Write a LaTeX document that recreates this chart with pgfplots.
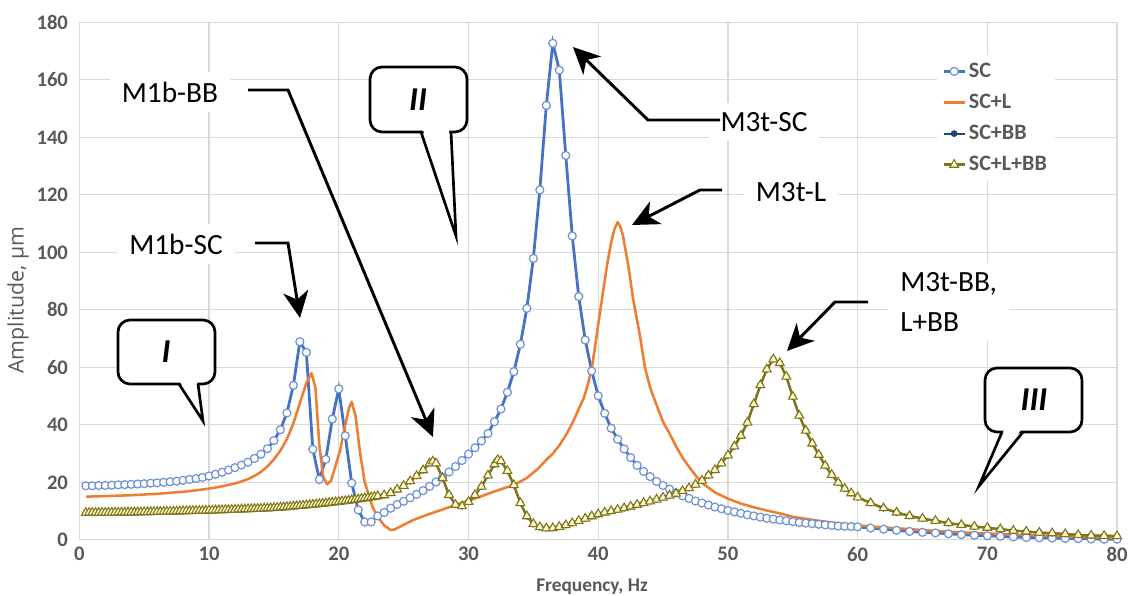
\documentclass[border=0pt]{standalone}
\usepackage{pgfplots}
\pgfplotsset{compat=1.18}
\usepackage{pgfplotstable}
\usepackage{fontspec}
\setmainfont{Carlito}
\newfontfamily\osans{Open Sans}
\usetikzlibrary{arrows.meta}

\definecolor{scline}{RGB}{68,114,196}
\definecolor{scmark}{RGB}{110,145,210}
\definecolor{sclorange}{RGB}{237,125,49}
\definecolor{bbblue}{RGB}{38,68,120}
\definecolor{lbbline}{RGB}{128,118,24}
\definecolor{lbbfill}{RGB}{255,250,205}
\definecolor{txtgray}{RGB}{89,89,89}
\definecolor{gridgray}{RGB}{217,217,217}

% SC: blue circles
\pgfplotstableread{
f a
0.5 18.8
1 18.8
1.5 18.9
2 18.9
2.5 19.0
3 19.1
3.5 19.2
4 19.3
4.5 19.4
5 19.5
5.5 19.7
6 19.8
6.5 20.0
7 20.2
7.5 20.4
8 20.7
8.5 21.0
9 21.3
9.5 21.7
10 22.2
10.5 22.8
11 23.5
11.5 24.3
12 25.1
12.5 26.0
13 27.0
13.5 28.3
14 29.8
14.5 31.7
15 34.5
15.5 38.3
16 44.1
16.5 53.7
17 68.9
17.5 65.2
18 31.5
18.5 21.0
19 28.0
19.5 42.0
20 52.5
20.5 36.2
21 19.7
21.5 10.4
22 6.2
22.5 6.2
23 8.3
23.5 9.5
24 11.0
24.5 12.3
25 13.4
25.5 14.6
26 15.8
26.5 17.1
27 18.6
27.5 20.1
28 21.8
28.5 23.6
29 25.5
29.5 27.6
30 29.8
30.5 32.0
31 34.4
31.5 37.0
32 41.1
32.5 45.5
33 51.3
33.5 58.5
34 68.0
34.5 80.5
35 97.9
35.5 121.7
36 151.1
36.5 172.7
37 163.4
37.5 133.7
38 105.7
38.5 84.6
39 69.5
39.5 58.7
40 50.1
40.5 44.0
41 38.8
41.5 35.0
42 31.6
42.5 28.6
43 25.9
43.5 23.8
44 22.0
44.5 20.3
45 18.9
45.5 17.6
46 16.3
46.5 15.3
47 14.4
47.5 13.5
48 12.8
48.5 12.1
49 11.4
49.5 10.8
50 10.2
50.5 9.7
51 9.2
51.5 8.7
52 8.3
52.5 7.9
53 7.5
53.5 7.2
54 6.9
54.5 6.6
55 6.3
55.5 6.0
56 5.8
56.5 5.6
57 5.4
57.5 5.2
58 5.0
58.5 4.8
59 4.7
59.5 4.6
60 4.5
61 4.1
62 3.7
63 3.3
64 2.9
65 2.6
66 2.4
67 2.1
68 1.8
69 1.6
70 1.4
71 1.2
72 1.0
73 0.8
74 0.7
75 0.6
76 0.5
77 0.4
78 0.3
79 0.2
80 0.2
}\tabsc

% SC+L: orange line
\pgfplotstableread{
f a
0.5 15.0
2 15.2
4 15.5
6 16.0
8 16.7
9 17.2
10 17.8
11 18.6
12 19.6
12.5 20.3
13 21.1
13.5 22.2
14 23.6
14.5 25.5
15 28.0
15.5 31.0
16 35.0
16.5 40.5
17 47.5
17.5 54.5
17.9 58.0
18.2 53.0
18.5 33.0
18.8 22.0
19.1 19.3
19.4 20.5
19.7 25.0
20.1 31.0
20.5 40.0
20.8 46.0
21.0 48.0
21.3 43.0
21.65 30.0
22.0 20.0
22.6 11.5
23.0 8.0
23.5 5.0
24.0 3.4
24.3 3.6
25.0 5.2
25.75 6.9
27 9.0
28.3 11.0
29.5 12.9
30.9 15.0
32 16.8
33.5 19.1
34.5 21.5
35.3 24.5
36.0 27.8
36.5 30.0
37.0 32.8
37.5 36.3
38.0 40.5
38.5 45.5
38.9 49.5
39.2 54.0
39.5 59.5
39.8 68.5
40.1 78.0
40.4 87.0
40.7 96.0
41.0 103.5
41.25 108.0
41.5 110.5
41.7 109.0
41.9 106.0
42.1 101.0
42.35 94.5
42.7 83.5
43.2 71.5
43.6 60.0
44.0 53.0
44.4 48.0
45.0 41.0
45.5 37.0
46 32.5
46.5 28.6
47 25.4
47.5 22.4
48 19.8
49 16.5
50 14.3
51 12.6
52 11.3
53 10.2
54 9.2
55 8.0
56 7.3
57 6.6
58 6.0
59 5.5
60 5.0
62 4.3
64 3.7
66 3.1
68 2.6
70 2.2
72 1.8
74 1.5
76 1.2
78 0.9
80 0.6
}\tabscl

% SC+BB and SC+L+BB (nearly identical curves)
\pgfplotstableread{
f a
0.5 9.40
0.75 9.41
1 9.42
1.25 9.43
1.5 9.44
1.75 9.45
2 9.46
2.25 9.47
2.5 9.48
2.75 9.49
3 9.50
3.25 9.51
3.5 9.53
3.75 9.54
4 9.56
4.25 9.58
4.5 9.60
4.75 9.62
5 9.65
5.25 9.67
5.5 9.69
5.75 9.71
6 9.74
6.25 9.76
6.5 9.79
6.75 9.82
7 9.85
7.25 9.88
7.5 9.91
7.75 9.94
8 9.97
8.25 10.00
8.5 10.03
8.75 10.06
9 10.09
9.25 10.12
9.5 10.15
9.75 10.18
10 10.21
10.25 10.24
10.5 10.27
10.75 10.31
11 10.34
11.25 10.38
11.5 10.42
11.75 10.46
12 10.50
12.25 10.54
12.5 10.58
12.75 10.63
13 10.68
13.25 10.73
13.5 10.78
13.75 10.83
14 10.88
14.25 10.93
14.5 10.98
14.75 11.03
15 11.09
15.25 11.17
15.5 11.25
15.75 11.34
16 11.43
16.25 11.52
16.5 11.62
16.75 11.72
17 11.82
17.25 11.92
17.5 12.03
17.75 12.14
18 12.25
18.25 12.36
18.5 12.48
18.75 12.60
19 12.72
19.25 12.84
19.5 12.97
19.75 13.10
20 13.23
20.25 13.37
20.5 13.51
20.75 13.66
21 13.81
21.25 13.96
21.5 14.12
21.75 14.28
22 14.45
22.25 14.62
22.5 14.80
22.75 14.98
23 15.17
23.5 15.5
24 16.3
24.5 17.5
25 18.8
25.5 20.4
26 22.2
26.5 24.2
27 26.6
27.25 27.3
27.5 26.6
28 21.5
28.5 15.6
29 12.2
29.5 11.7
30 13.2
30.5 15.6
31 18.5
31.5 22.4
32 26.3
32.25 27.8
32.5 27.4
33 24.0
33.5 19.0
34 12.8
34.5 8.2
35 5.5
35.5 4.4
36 4.0
36.5 4.1
37 4.5
37.5 5.1
38 5.8
38.5 6.6
39 7.4
39.5 8.2
40 8.9
40.5 9.5
41 10.0
41.5 10.5
42 11.0
42.5 11.6
43 12.2
43.5 12.8
44 13.4
44.5 14.0
45 14.7
45.5 15.4
46 16.1
46.5 17.0
47 18.0
47.5 19.2
48 20.6
48.5 22.4
49 24.3
49.5 26.6
50 29.4
50.5 32.5
51 36.2
51.5 40.8
52 47.2
52.5 53.8
53 59.3
53.5 62.8
54 61.5
54.5 56.8
55 49.8
55.5 43.2
56 38.0
56.5 33.5
57 29.6
57.5 25.8
58 22.6
58.5 19.9
59 17.8
59.5 16.2
60 14.8
61 12.8
62 11.0
63 9.5
64 8.3
65 7.4
66 6.6
67 5.8
68 5.2
69 4.6
70 4.2
71 3.7
72 3.2
73 2.9
74 2.5
75 2.3
76 2.0
77 1.7
78 1.5
79 1.4
80 1.3
}\tabbb

\begin{document}
\begin{tikzpicture}
\begin{axis}[
    at={(0,0)}, anchor=south west,
    scale only axis, width=778.3pt, height=388.1pt,
    xmin=0, xmax=80, ymin=0, ymax=180,
    xtick={0,10,...,80}, ytick={0,20,...,180},
    grid=major, major grid style={gridgray, line width=0.9pt},
    axis line style={draw=none}, tick style={draw=none},
    clip=false,
    /pgf/number format/assume math mode=true,
    ticklabel style={font=\fontsize{15.5}{18}\selectfont\bfseries, text=txtgray},
    yticklabel style={xshift=-5pt},
    xticklabel style={yshift=-2pt},
    xlabel={Frequency, Hz},
    ylabel={Amplitude, µm},
    xlabel style={at={(axis description cs:0.494,-0.0908)}, anchor=center,
        font=\fontsize{14.5}{18}\selectfont\bfseries, text=txtgray},
    ylabel style={at={(axis description cs:-0.0591,0.463)}, anchor=center, rotate=0,
        font=\osans\fontsize{16}{18}\selectfont, text=txtgray},
    legend style={at={(axis description cs:0.826,0.937)}, anchor=north west,
        draw=none, fill=white, text=txtgray, row sep=7pt, inner sep=4pt,
        font=\fontsize{16.5}{19}\selectfont\bfseries},
    legend cell align=left,
    legend image code/.code={\draw[mark repeat=2,mark phase=2,#1]
        plot coordinates {(0pt,0pt) (8pt,0pt) (16pt,0pt)};},
  ]
  \addplot[scline, line width=2.1pt, mark=*, mark size=3pt,
      mark options={fill=white, draw=scmark, line width=0.9pt}]
      table[x=f, y=a]{\tabsc};
  \addlegendentry{SC}
  \addplot[sclorange, line width=1.9pt, no marks, line join=round]
      table[x=f, y=a]{\tabscl};
  \addlegendentry{SC+L}
  \addplot[bbblue, line width=1.4pt, mark=*, mark size=1.8pt]
      table[x=f, y=a]{\tabbb};
  \addlegendentry{SC+BB}
  \addplot[lbbline, line width=1.8pt, mark=triangle*, mark size=3.8pt,
      mark options={fill=lbbfill, draw=lbbline, line width=0.8pt}]
      table[x=f, y=a]{\tabbb};
  \addlegendentry{SC+L+BB}
\end{axis}

% annotations, in reference pixel coordinates (origin top-left)
\begin{scope}[shift={(-59.5pt,404.85pt)}, x=0.75pt, y=-0.75pt]
  \tikzset{lbl/.style={fill=white, inner xsep=9pt, inner ysep=7pt,
      font=\fontsize{22}{30}\selectfont},
    arr/.style={line width=2.2pt, line join=miter,
      -{Stealth[length=20pt, width=19pt, inset=6pt]}},
    bub/.style={line width=2pt, fill=white, rounded corners=9pt},
    roman/.style={font=\fontsize{25}{28}\selectfont\bfseries\itshape}}
  \node[lbl] at (170,92) {M1b-BB};
  \node[lbl] at (176,244) {M1b-SC};
  \node[lbl] at (764,122) {M3t-SC};
  \node[lbl] at (791,192) {M3t-L};
  \node[lbl, anchor=west, align=left] at (888,302) {M3t-BB,\\L+BB};
  \draw[arr] (248,90) -- (288,90) -- (433,437);
  \draw[arr] (255,243) -- (288,243) -- (300,318);
  \draw[arr] (720,120) -- (648,120) -- (573,47);
  \draw[arr] (722,190) -- (700,190) -- (632,225);
  \draw[arr] (868,302) -- (835,302) -- (787,351);
  % speech bubbles
  \draw[bub] (118,320) rectangle (215,384);
  \fill[white] (180,382) -- (197,382) -- (203,421) -- cycle;
  \draw[line width=2pt] (179,384) -- (203,421) -- (198,384);
  \node[roman] at (166,352) {I};
  \draw[bub] (370,67) rectangle (467,132);
  \fill[white] (423,130) -- (449,130) -- (456,236) -- cycle;
  \draw[line width=2pt] (421,132) -- (456,236) -- (451,132);
  \node[roman] at (418,100) {II};
  \draw[bub] (985,368) rectangle (1082,432);
  \fill[white] (1004,430) -- (1021,430) -- (979,486) -- cycle;
  \draw[line width=2pt] (1002,432) -- (979,486) -- (1023,432);
  \node[roman] at (1034,400) {III};
\end{scope}
\pgfresetboundingbox
\path[use as bounding box] (-59.5pt,-42.15pt) rectangle (786.5pt,404.85pt);
\end{tikzpicture}
\end{document}
